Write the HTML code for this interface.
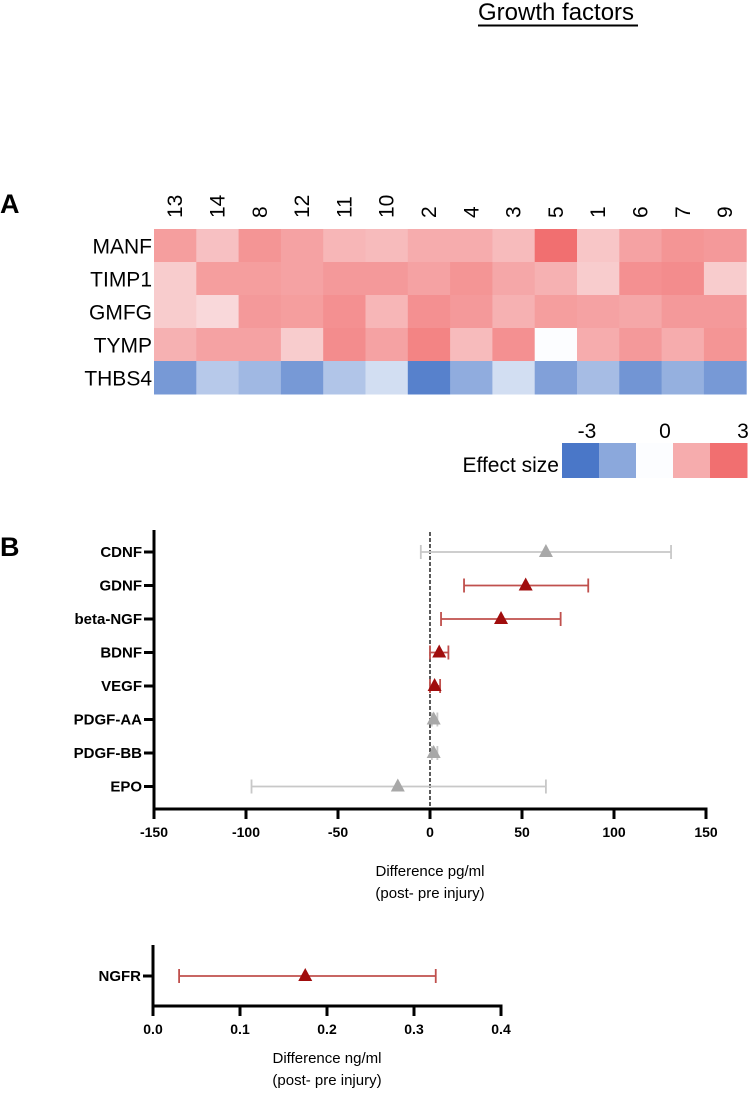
<!DOCTYPE html>
<html><head><meta charset="utf-8"><style>
html,body{margin:0;padding:0;background:#fff;width:750px;height:1094px;overflow:hidden}
svg text{font-family:"Liberation Sans",Arial,sans-serif}
</style></head><body>
<svg id="fig" width="750" height="1094" viewBox="0 0 750 1094">
<text x="478" y="20" font-size="24">Growth factors</text>
<line x1="478" y1="25.5" x2="638" y2="25.5" stroke="#000" stroke-width="2"/>
<text x="0" y="213" font-size="27" font-weight="bold">A</text>
<g id="heat"></g>
<g id="legend">
<text x="559" y="472" font-size="21" text-anchor="end">Effect size</text>
</g>
<text x="0" y="556" font-size="27" font-weight="bold">B</text>
<g id="forest"></g>
<g id="forest2"></g>
</svg>
<script>
const NS="http://www.w3.org/2000/svg";
function mk(p,t,a){const e=document.createElementNS(NS,t);for(const k in a)e.setAttribute(k,a[k]);p.appendChild(e);return e;}
// heatmap data
const heatCols=["13","14","8","12","11","10","2","4","3","5","1","6","7","9"];
const heatRows=["MANF","TIMP1","GMFG","TYMP","THBS4"];
const manfVals=[1.5,0.8,1.7,1.4,1.0,0.9,1.2,1.2,0.9,2.6,0.7,1.4,1.7,1.6];
const timp1Vals=[0.6,1.5,1.5,1.4,1.6,1.6,1.4,1.7,1.3,1.1,0.6,1.8,1.9,0.6];
const gmfgVals=[0.6,0.4,1.6,1.5,1.8,1.0,1.8,1.6,1.1,1.5,1.4,1.3,1.6,1.6];
const tympVals=[1.1,1.4,1.4,0.6,1.9,1.4,2.1,0.9,1.8,0.0,1.2,1.6,1.2,1.7];
const thbs4Vals=[-2.0,-0.8,-1.2,-2.0,-0.9,-0.4,-2.7,-1.5,-0.4,-1.8,-1.1,-2.1,-1.4,-2.0];
const legendVals=[-3,-1.6,0,1.2,2.6];
const legendTicks=[-3,0,3];
// forest data
const forestCats=["CDNF","GDNF","beta-NGF","BDNF","VEGF","PDGF-AA","PDGF-BB","EPO"];
const forestMean=[63,52,38.6,5,2.5,2,2,-17.5];
const forestLo=[-5,18.5,6,0,0,1,1,-97];
const forestHi=[131,86,71,10,5.5,4,4,63];
const forestSig=[false,true,true,true,true,false,false,false];
const forestTicks=[-150,-100,-50,0,50,100,150];
const ngCats=["NGFR"];
const ngMean=[0.175];
const ngLo=[0.03];
const ngHi=[0.325];
const ngTicks=[0,0.1,0.2,0.3,0.4];

function color(v){
  const t=Math.max(-1,Math.min(1,v/3));
  let a,b,u;
  const w=[252,253,255];
  if(t<0){a=w;b=[74,119,200];u=-t;}else{a=w;b=[240,96,96];u=t;}
  u=Math.pow(u,0.72);
  return "rgb("+a.map((c,i)=>Math.round(c+(b[i]-c)*u)).join(",")+")";
}
const heat=document.getElementById('heat');
const hx0=154,hy0=229,cw=42.3,ch=33;
const allRows=[manfVals,timp1Vals,gmfgVals,tympVals,thbs4Vals];
heatCols.forEach((c,i)=>{
  const t=mk(heat,'text',{x:0,y:0,'font-size':21,transform:`translate(${hx0+cw*i+cw/2+7},218) rotate(-90)`});
  
  
  t.textContent=c;
});
heatRows.forEach((r,j)=>{
  const t=mk(heat,'text',{x:152,y:hy0+ch*j+ch/2+8,'font-size':21,'text-anchor':'end'});
  
  
  t.textContent=r;
  allRows[j].forEach((v,i)=>{
    const rc=mk(heat,'rect',{x:hx0+cw*i,y:hy0+ch*j,width:cw+0.5,height:ch+0.5,fill:color(v)});
    
    
  });
});
const lg=document.getElementById('legend');
legendVals.forEach((v,i)=>{
  const rc=mk(lg,'rect',{x:562+37*i,y:443,width:37.5,height:35,fill:color(v)});
  
  
});
legendTicks.forEach(v=>{
  const t=mk(lg,'text',{x:665+v*26,y:438,'font-size':21,'text-anchor':'middle'});
  
  
  t.textContent=String(v);
});

function drawForest(g,cats,mean,lo,hi,sig,ticks,x0,x1,vmin,vmax,yTop,yAxis,row0,step,fmt,zeroLine){
  const sx=v=>x0+(v-vmin)/(vmax-vmin)*(x1-x0);
  const yl=mk(g,'line',{x1:x0,y1:yTop,x2:x0,y2:yAxis+1.5,stroke:'#000','stroke-width':3});
  
  
  const xl=mk(g,'line',{x1:x0-1.5,y1:yAxis,x2:x1+1.5,y2:yAxis,stroke:'#000','stroke-width':3});
  
  
  ticks.forEach(v=>{
    const l=mk(g,'line',{x1:sx(v),y1:yAxis,x2:sx(v),y2:yAxis+10,stroke:'#000','stroke-width':3});
    
    
    const t=mk(g,'text',{x:sx(v),y:yAxis+28,'font-size':14,'font-weight':'bold','text-anchor':'middle'});
    
    
    t.textContent=fmt(v);
  });
  if(zeroLine){
    const z=mk(g,'line',{x1:sx(0),y1:yTop+2,x2:sx(0),y2:yAxis,stroke:'#000','stroke-width':1.3,'stroke-dasharray':'4,2'});
    
    
  }
  cats.forEach((c,i)=>{
    const y=row0+step*i;
    const tk=mk(g,'line',{x1:x0-10,y1:y,x2:x0,y2:y,stroke:'#000','stroke-width':3});
    
    
    const t=mk(g,'text',{x:x0-12,y:y+5,'font-size':15,'font-weight':'bold','text-anchor':'end'});
    
    
    t.textContent=c;
    const lc=sig[i]?'#c0504d':'#c8c8c8', mc=sig[i]?'#a00d0d':'#a8a8a8';
    const eb=mk(g,'path',{d:`M${sx(lo[i])},${y}H${sx(hi[i])}M${sx(lo[i])},${y-7}V${y+7}M${sx(hi[i])},${y-7}V${y+7}`,stroke:lc,'stroke-width':1.8,fill:'none'});
    
    
    const m=sx(mean[i]);
    const tr=mk(g,'path',{d:`M${m},${y-8}L${m+7},${y+5}L${m-7},${y+5}Z`,fill:mc});
    
    
  });
}
const f1=document.getElementById('forest');
drawForest(f1,forestCats,forestMean,forestLo,forestHi,forestSig,forestTicks,154,706,-150,150,530,809,552,33.5,v=>String(v),true);
const t1=mk(f1,'text',{x:430,y:876,'font-size':15,'text-anchor':'middle'});


t1.textContent='Difference pg/ml';
const t2=mk(f1,'text',{x:430,y:898,'font-size':15,'text-anchor':'middle'});


t2.textContent='(post- pre injury)';
const f2=document.getElementById('forest2');
drawForest(f2,ngCats,ngMean,ngLo,ngHi,[true],ngTicks,153,501,0,0.4,945,1006,976,0,v=>v.toFixed(1),false);
const t3=mk(f2,'text',{x:327,y:1063,'font-size':15,'text-anchor':'middle'});


t3.textContent='Difference ng/ml';
const t4=mk(f2,'text',{x:327,y:1085,'font-size':15,'text-anchor':'middle'});


t4.textContent='(post- pre injury)';
</script>
</body></html>
